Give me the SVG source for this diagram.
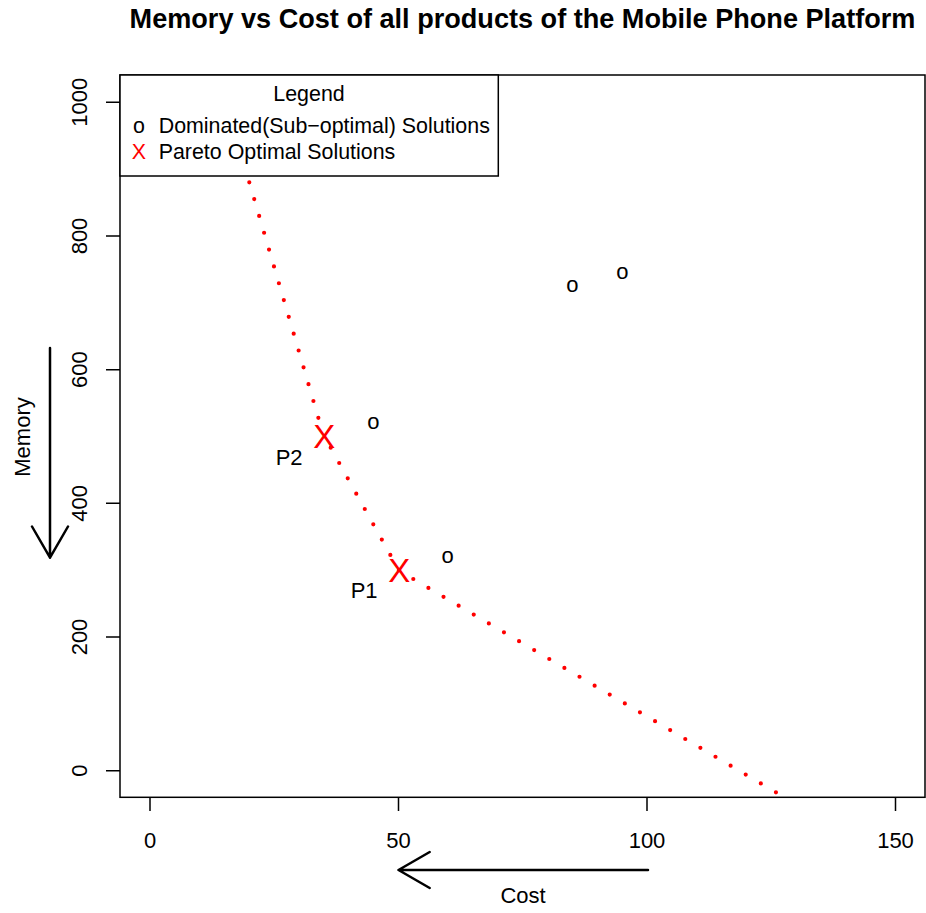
<svg xmlns="http://www.w3.org/2000/svg" width="926" height="913" viewBox="0 0 926 913">
<defs>
<style>
text{font-family:"Liberation Sans",Arial,sans-serif;fill:#000}
.t{font-size:22px}
.lg{font-size:21.4px}
.title{font-size:27.1px;font-weight:bold}
.ax{stroke:#000;stroke-width:1.5;fill:none}
.arr{stroke:#000;stroke-width:2.5;fill:none;stroke-linecap:round;stroke-linejoin:round}
.red{fill:#FF0000}
.big{font-size:33px}
.dot{stroke:#FF0000;stroke-width:4.2;stroke-linecap:round;stroke-dasharray:0 17.53;fill:none}
</style>
<clipPath id="plotclip"><rect x="120" y="75" width="805" height="722"/></clipPath>
</defs>
<rect width="926" height="913" fill="#fff"/>
<text class="title" x="522.5" y="28" text-anchor="middle">Memory vs Cost of all products of the Mobile Phone Platform</text>

<g id="curve" clip-path="url(#plotclip)">
<path class="dot" d="M249.3 182.3 L323.1 434 M330.7 447.7 L399.1 570.7 M413.3 579 L840 830"/>
</g>

<g id="axes">
<rect class="ax" x="120" y="75" width="805" height="722.3"/>
<path class="ax" d="M106 770.7H120M106 637H120M106 503.3H120M106 369.7H120M106 236H120M106 102.3H120"/>
<path class="ax" d="M150 797.3V811M398.5 797.3V811M647 797.3V811M895.5 797.3V811"/>
<g class="t" text-anchor="middle">
<text x="150" y="848">0</text>
<text x="398.5" y="848">50</text>
<text x="647" y="848">100</text>
<text x="895.5" y="848">150</text>
<text transform="rotate(-90 87 770.7)" x="87" y="770.7">0</text>
<text transform="rotate(-90 87 637)" x="87" y="637">200</text>
<text transform="rotate(-90 87 503.3)" x="87" y="503.3">400</text>
<text transform="rotate(-90 87 369.7)" x="87" y="369.7">600</text>
<text transform="rotate(-90 87 236)" x="87" y="236">800</text>
<text transform="rotate(-90 87 102.3)" x="87" y="102.3">1000</text>
<text x="523" y="903">Cost</text>
<text transform="rotate(-90 30 437)" x="30" y="437">Memory</text>
</g>
</g>

<g id="dominated" class="t" text-anchor="middle">
<text x="373.3" y="428.5">o</text>
<text x="447.7" y="562.5">o</text>
<text x="572.3" y="291.8">o</text>
<text x="622.3" y="279">o</text>
</g>

<g id="pareto">
<text class="red big" x="324.2" y="447.7" text-anchor="middle">X</text>
<text class="red big" x="399.2" y="581.8" text-anchor="middle">X</text>
<text class="t" x="275.7" y="464.5">P2</text>
<text class="t" x="350.7" y="598.3">P1</text>
</g>

<g id="arrows">
<path class="arr" d="M50 348V557.7M32 526.5L50 557.7L68 526.5"/>
<path class="arr" d="M648 870H398.5M429.7 852L398.5 870L429.7 888"/>
</g>

<g id="legend">
<rect x="120" y="75" width="378.3" height="101" fill="#fff" stroke="#000" stroke-width="1.5"/>
<text class="lg" x="309" y="100.7" text-anchor="middle">Legend</text>
<text class="lg" x="139" y="132.5" text-anchor="middle">o</text>
<text class="lg" x="158.7" y="132.7">Dominated(Sub−optimal) Solutions</text>
<text class="lg red" x="139" y="159.3" text-anchor="middle">X</text>
<text class="lg" x="158.7" y="159.3">Pareto Optimal Solutions</text>
</g>
</svg>
